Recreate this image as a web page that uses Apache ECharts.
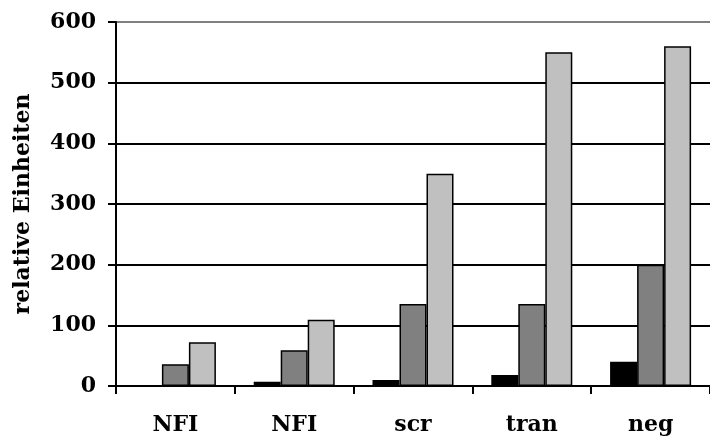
<!DOCTYPE html>
<html>
<head>
<meta charset="utf-8">
<script src="https://cdn.jsdelivr.net/npm/echarts@6/dist/echarts.min.js"></script>
<style>html,body{margin:0;padding:0;background:#fff}#c{width:710px;height:439px}</style>
</head>
<body>
<div id="c"></div>
<script>
var categories = ['NFI', 'NFI', 'scr', 'tran', 'neg'];
var seriesBlack = [0, 7, 10, 18, 40];
var seriesDark = [36, 59, 135, 135, 200];
var seriesLight = [72, 109, 350, 550, 560];
var yTicks = [0, 100, 200, 300, 400, 500, 600];
var yName = 'relative Einheiten';

var font = 'DejaVu Serif';
var chart = echarts.init(document.getElementById('c'), null, {renderer: 'canvas'});
function bar(data, color) {
  return {
    type: 'bar', data: data, barWidth: 27, barGap: '0%',
    itemStyle: {color: color, borderColor: '#000', borderWidth: 1.5}
  };
}
chart.setOption({
  animation: false,
  grid: {left: 116, top: 22, height: 364, width: 605},
  xAxis: {
    type: 'category', data: categories,
    axisLine: {lineStyle: {color: '#000', width: 2}},
    axisTick: {show: true, length: 8, lineStyle: {color: '#000', width: 2}},
    axisLabel: {fontFamily: font, fontWeight: 'bold', fontSize: 22, color: '#000', margin: 28}
  },
  yAxis: {
    type: 'value', min: yTicks[0], max: yTicks[yTicks.length - 1], interval: 100,
    name: yName, nameLocation: 'middle', nameGap: 82, nameRotate: 90,
    nameTextStyle: {fontFamily: font, fontWeight: 'bold', fontSize: 22, color: '#000'},
    axisLine: {show: true, lineStyle: {color: '#000', width: 2}},
    axisTick: {show: true, length: 8, lineStyle: {color: '#000', width: 2}},
    axisLabel: {fontFamily: font, fontWeight: 'bold', fontSize: 22, color: '#000', margin: 20},
    splitLine: {lineStyle: {color: ['#000', '#000', '#000', '#000', '#000', '#000', '#808080'], width: 2}}
  },
  series: [bar(seriesBlack, '#000000'), bar(seriesDark, '#808080'), bar(seriesLight, '#c0c0c0')]
});
</script>
</body>
</html>
